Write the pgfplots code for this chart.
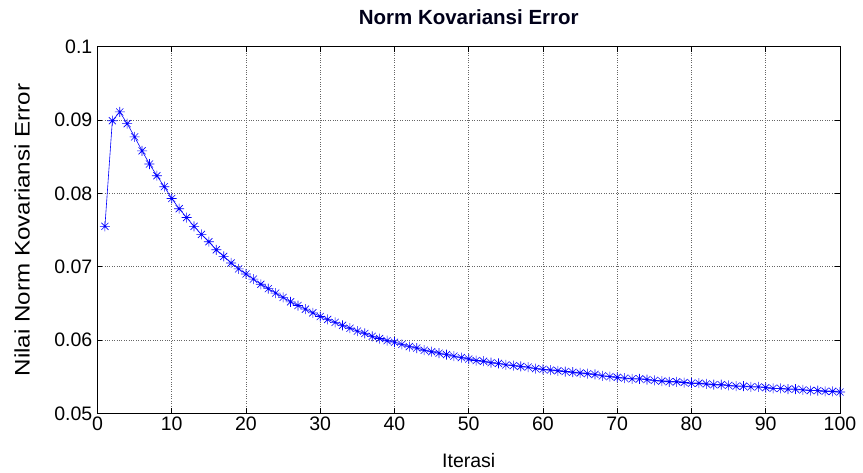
\documentclass[border=0pt]{standalone}
\usepackage{fontspec}
\setmainfont{Liberation Sans}
\usepackage{pgfplots}
\pgfplotsset{compat=1.18}

% MATLAB-style eight-ray asterisk
\pgfdeclareplotmark{mstar}{%
  \pgfpathmoveto{\pgfqpoint{-\pgfplotmarksize}{0pt}}\pgfpathlineto{\pgfqpoint{\pgfplotmarksize}{0pt}}%
  \pgfpathmoveto{\pgfqpoint{0pt}{-\pgfplotmarksize}}\pgfpathlineto{\pgfqpoint{0pt}{\pgfplotmarksize}}%
  \pgfpathmoveto{\pgfqpoint{-0.707\pgfplotmarksize}{-0.707\pgfplotmarksize}}\pgfpathlineto{\pgfqpoint{0.707\pgfplotmarksize}{0.707\pgfplotmarksize}}%
  \pgfpathmoveto{\pgfqpoint{-0.707\pgfplotmarksize}{0.707\pgfplotmarksize}}\pgfpathlineto{\pgfqpoint{0.707\pgfplotmarksize}{-0.707\pgfplotmarksize}}%
  \pgfusepathqstroke}

\begin{document}
\begin{tikzpicture}
\path[use as bounding box] (-97.5pt,-59.7pt) rectangle (765.5pt,413.3pt);
\begin{axis}[
  at={(0,0)}, anchor=south west,
  scale only axis, width=742.5pt, height=366.6pt,
  xmin=0, xmax=100, ymin=0.05, ymax=0.1,
  xtick={0,10,...,100},
  ytick={0.05,0.06,0.07,0.08,0.09,0.1},
  yticklabel style={/pgf/number format/fixed, /pgf/number format/precision=2},
  /pgf/number format/assume math mode=true,
  ticklabel style={font=\fontsize{19.5}{22}\selectfont},
  xticklabel style={inner sep=3.5pt},
  yticklabel style={inner sep=5pt},
  tick align=inside, major tick length=5pt,
  tick style={black, line width=0.6pt},
  axis line style={black, line width=0.9pt},
  grid=major,
  major grid style={black!60, dotted, line width=0.6pt},
  title={\bfseries Norm Kovariansi Error},
  title style={font=\fontsize{20.5}{23}\selectfont, text=black!90!blue,
    at={(axis description cs:0.5,1)}, anchor=center, yshift=24pt},
  xlabel={Iterasi},
  ylabel={\scalebox{1.15}[1]{Nilai Norm Kovariansi Error}},
  xlabel style={font=\fontsize{19.5}{22}\selectfont,
    at={(axis description cs:0.5,0)}, anchor=center, yshift=-47pt},
  ylabel style={font=\fontsize{21}{24}\selectfont,
    at={(axis description cs:0,0.5)}, anchor=center, yshift=75.5pt},
]
\addplot[blue, line width=0.6pt, mark=mstar, mark size=5pt,
         mark options={line width=0.6pt}] table {
x y
1 0.0755
2 0.0899
3 0.0911
4 0.0895
5 0.0877
6 0.0858
7 0.0840
8 0.0824
9 0.0809
10 0.0793
11 0.0779
12 0.0767
13 0.0755
14 0.0744
15 0.0734
16 0.0723
17 0.0714
18 0.0705
19 0.0697
20 0.0690
21 0.0683
22 0.0676
23 0.0670
24 0.0664
25 0.0658
26 0.0652
27 0.0647
28 0.0642
29 0.0637
30 0.0632
31 0.0628
32 0.0624
33 0.0620
34 0.0616
35 0.0612
36 0.0609
37 0.0605
38 0.0602
39 0.0599
40 0.0597
41 0.0594
42 0.0591
43 0.0589
44 0.0586
45 0.0584
46 0.0582
47 0.0580
48 0.0578
49 0.0576
50 0.0574
51 0.0572
52 0.0571
53 0.0569
54 0.0568
55 0.0566
56 0.0565
57 0.0564
58 0.0563
59 0.0561
60 0.0560
61 0.0559
62 0.0558
63 0.0557
64 0.0556
65 0.0555
66 0.0554
67 0.0553
68 0.0551
69 0.0550
70 0.0549
71 0.0548
72 0.0547
73 0.0547
74 0.0546
75 0.0545
76 0.0544
77 0.0543
78 0.0543
79 0.0542
80 0.0541
81 0.0541
82 0.0540
83 0.0539
84 0.0539
85 0.0538
86 0.0537
87 0.0537
88 0.0536
89 0.0536
90 0.0535
91 0.0534
92 0.0534
93 0.0533
94 0.0533
95 0.0532
96 0.0531
97 0.0531
98 0.0530
99 0.0530
100 0.0529
};
\end{axis}
\end{tikzpicture}
\end{document}
